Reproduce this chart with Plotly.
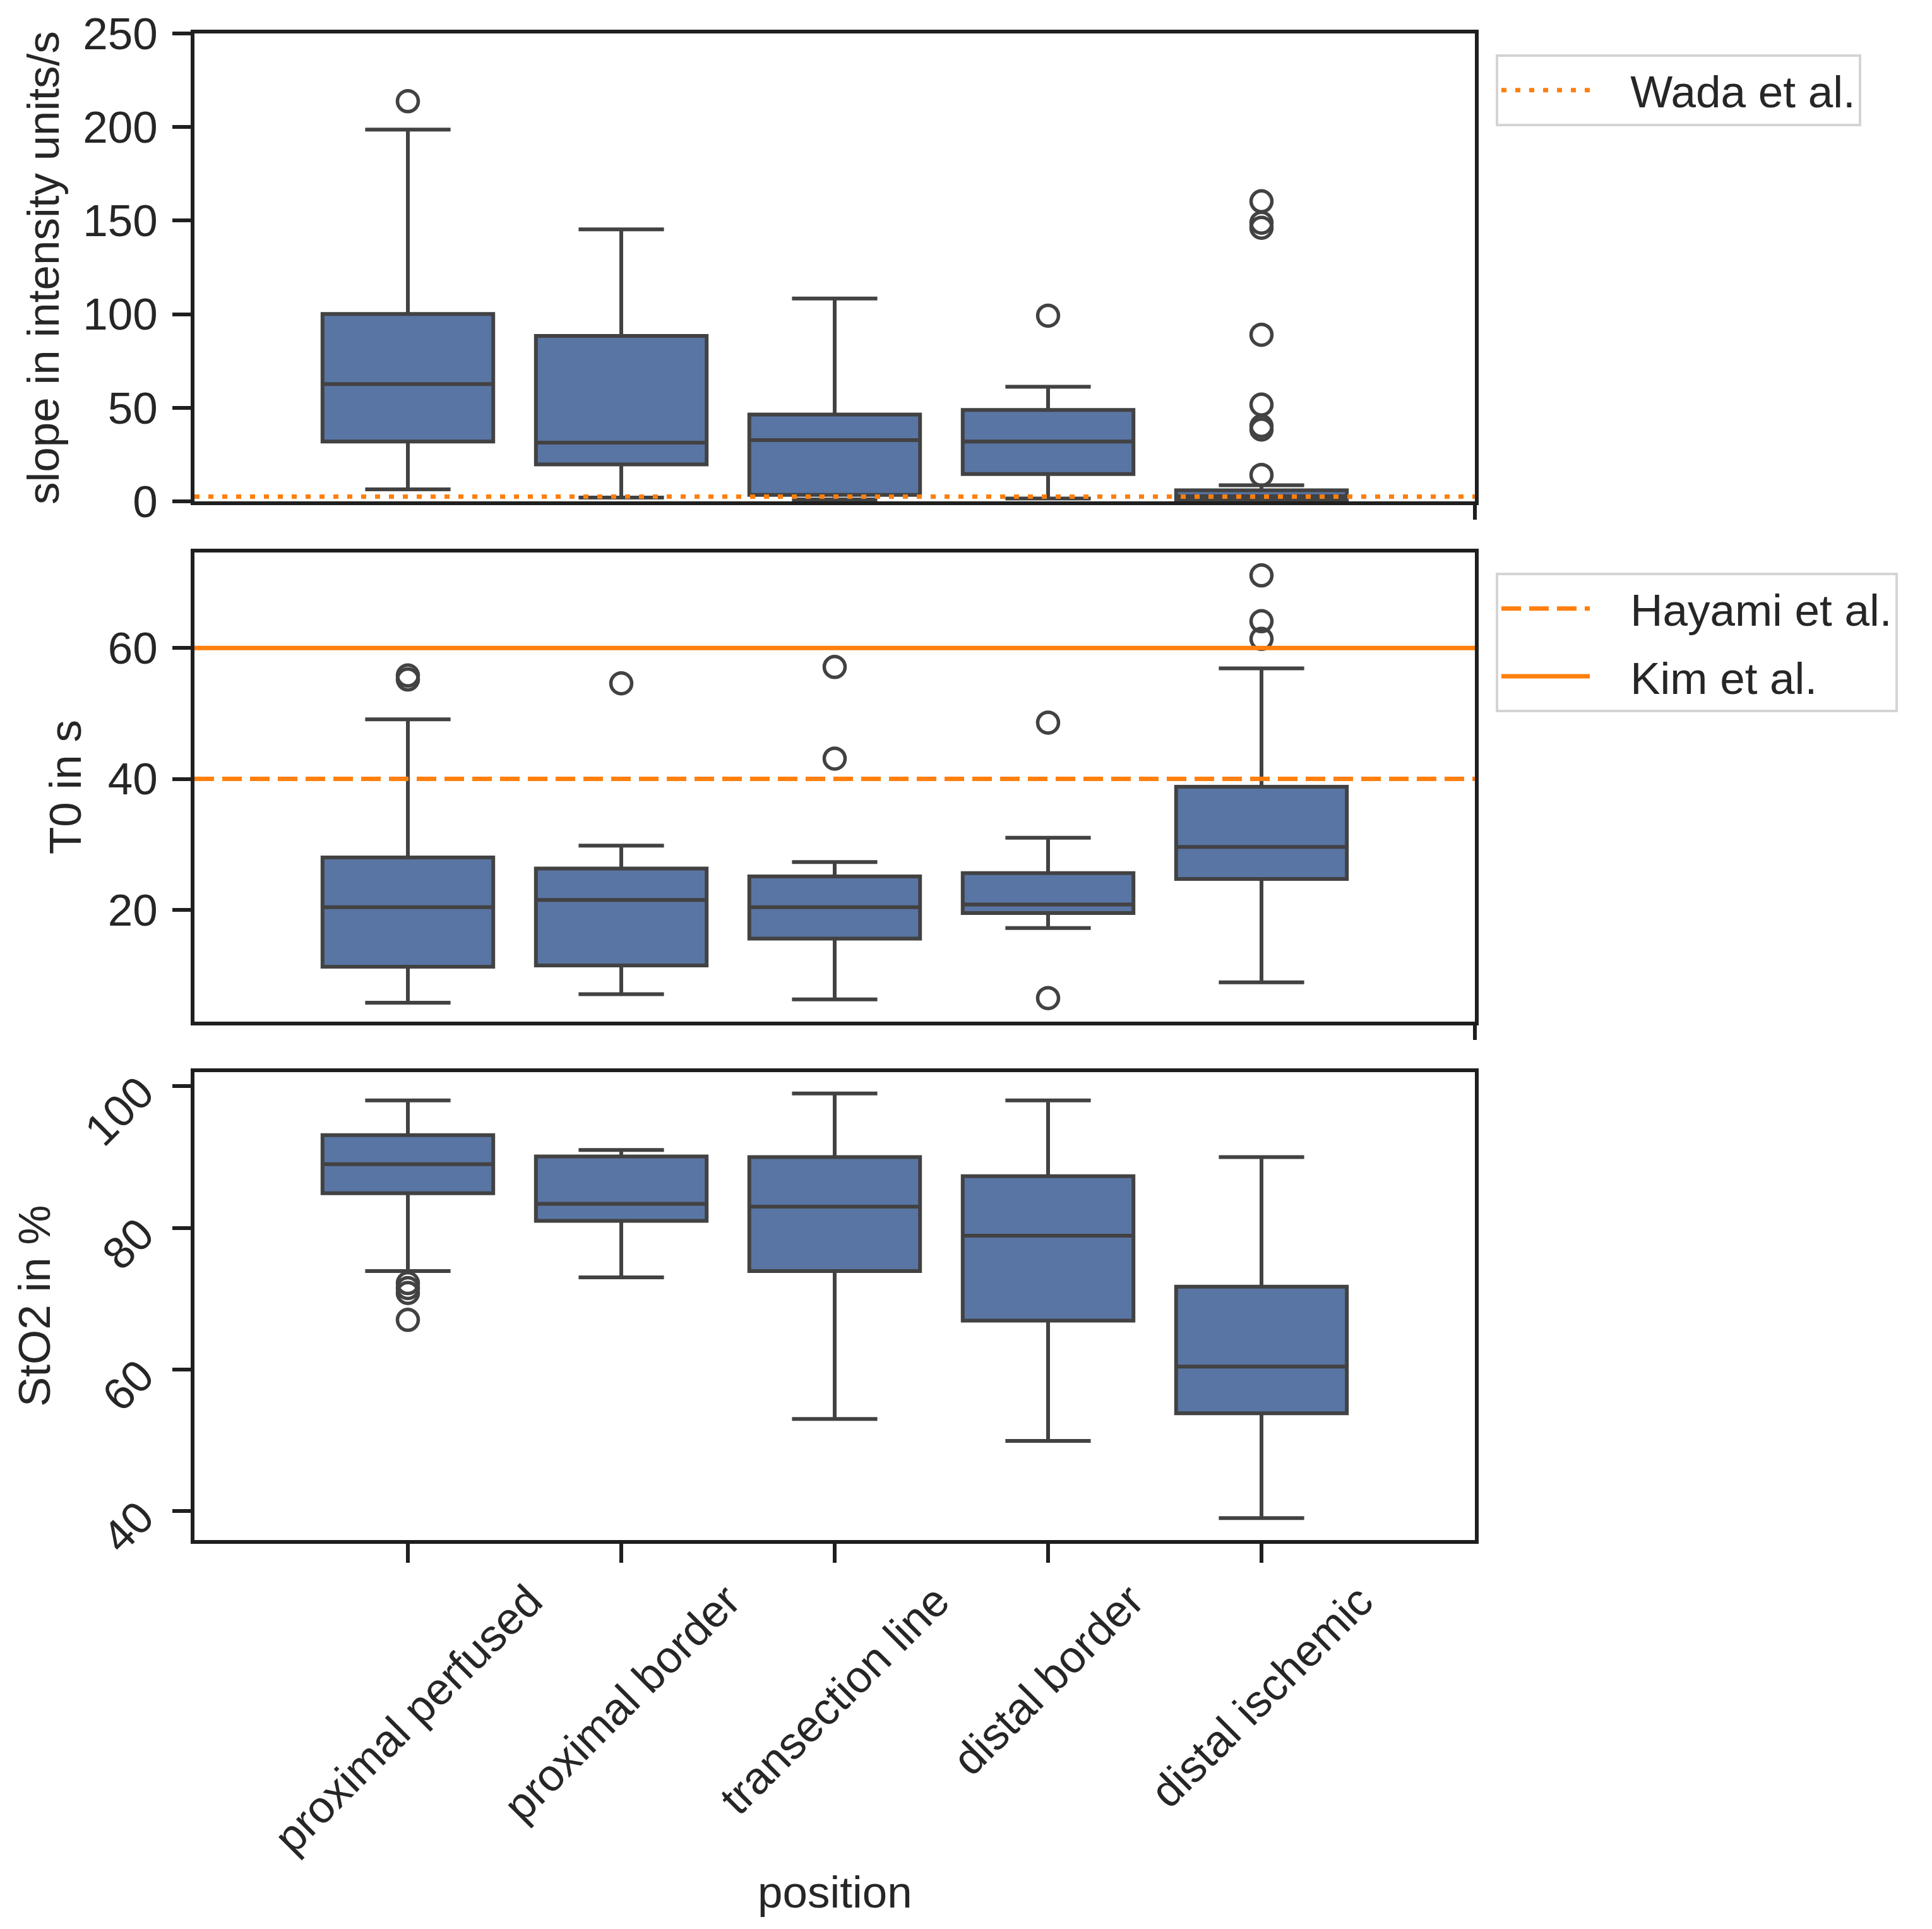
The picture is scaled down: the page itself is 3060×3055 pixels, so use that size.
import plotly.graph_objects as go

W, H = 3060, 3055

categories = ["proximal perfused", "proximal border", "transection line",
              "distal border", "distal ischemic"]

# ---- panel 1: slope in intensity units/s
slope_q1 = [32.0, 19.7, 3.5, 14.6, 0.8]
slope_median = [62.7, 31.4, 32.7, 32.0, 2.8]
slope_q3 = [100.1, 88.4, 46.4, 48.8, 5.9]
slope_low = [6.4, 2.0, 1.0, 1.5, 0.3]
slope_high = [198.6, 145.3, 108.4, 61.2, 8.6]
slope_out_cat = ["proximal perfused", "distal border",
                 "distal ischemic", "distal ischemic", "distal ischemic",
                 "distal ischemic", "distal ischemic", "distal ischemic",
                 "distal ischemic", "distal ischemic"]
slope_out_val = [213.8, 99.2, 160.3, 148.9, 146.2, 89.0, 51.7, 40.2, 38.4, 14.1]
slope_ticks = [0, 50, 100, 150, 200, 250]
wada_value = 2.5

# ---- panel 2: T0 in s
t0_q1 = [11.3, 11.5, 15.6, 19.5, 24.7]
t0_median = [20.4, 21.5, 20.4, 20.8, 29.6]
t0_q3 = [28.0, 26.3, 25.1, 25.6, 38.8]
t0_low = [5.8, 7.1, 6.3, 17.2, 8.9]
t0_high = [49.1, 29.8, 27.3, 31.0, 56.9]
t0_out_cat = ["proximal perfused", "proximal perfused", "proximal border",
              "transection line", "transection line", "distal border",
              "distal border", "distal ischemic", "distal ischemic",
              "distal ischemic"]
t0_out_val = [55.8, 55.2, 54.6, 57.1, 43.1, 48.6, 6.5, 71.1, 64.1, 61.4]
t0_ticks = [20, 40, 60]
hayami_value = 40
kim_value = 60

# ---- panel 3: StO2 in %
sto2_q1 = [84.9, 81.0, 73.9, 66.9, 53.8]
sto2_median = [89.0, 83.4, 83.0, 78.9, 60.4]
sto2_q3 = [93.1, 90.1, 90.0, 87.3, 71.7]
sto2_low = [73.9, 73.0, 53.0, 49.9, 39.0]
sto2_high = [98.0, 91.0, 99.0, 98.0, 90.0]
sto2_out_cat = ["proximal perfused"] * 4
sto2_out_val = [72.2, 71.5, 70.8, 67.0]
sto2_ticks = [40, 60, 80, 100]

FONT = "Liberation Sans, Arial, sans-serif"
TXT = "#262626"
SPINE = "#1f1f1f"
EDGE = "#424242"
FILL = "#5975a4"
ORANGE = "#ff7f0e"
FS = 71
NB = "\u00a0"

xpos = list(range(len(categories)))

def px_x(p):
    return p / W

def px_y(p):
    return 1 - p / H

fig = go.Figure()

panels = [
    ("x", "y", slope_q1, slope_median, slope_q3, slope_low, slope_high, slope_out_cat, slope_out_val),
    ("x2", "y2", t0_q1, t0_median, t0_q3, t0_low, t0_high, t0_out_cat, t0_out_val),
    ("x3", "y3", sto2_q1, sto2_median, sto2_q3, sto2_low, sto2_high, sto2_out_cat, sto2_out_val),
]

for xa, ya, q1, med, q3, lo, hi, ocat, oval in panels:
    fig.add_trace(go.Box(
        x=xpos, q1=q1, median=med, q3=q3, lowerfence=lo, upperfence=hi,
        boxpoints=False, width=0.8, whiskerwidth=0.5,
        fillcolor=FILL, line=dict(color=EDGE, width=6),
        showlegend=False, hoverinfo="skip", xaxis=xa, yaxis=ya))
    fig.add_trace(go.Scatter(
        x=[categories.index(c) for c in ocat], y=oval, mode="markers",
        marker=dict(symbol="circle-open", size=33, color=EDGE,
                    line=dict(width=5.5, color=EDGE)),
        showlegend=False, hoverinfo="skip", xaxis=xa, yaxis=ya))

# reference lines
fig.add_trace(go.Scatter(x=[-1, 5], y=[wada_value, wada_value], mode="lines",
                         line=dict(color=ORANGE, width=7, dash="8px,14px"),
                         name=NB * 3 + "Wada et al.", legend="legend",
                         xaxis="x", yaxis="y"))
fig.add_trace(go.Scatter(x=[-1, 5], y=[hayami_value, hayami_value], mode="lines",
                         line=dict(color=ORANGE, width=7, dash="31px,13px"),
                         name=NB * 3 + "Hayami et al.", legend="legend2", legendgroup="a",
                         xaxis="x2", yaxis="y2"))
fig.add_trace(go.Scatter(x=[-1, 5], y=[kim_value, kim_value], mode="lines",
                         line=dict(color=ORANGE, width=7),
                         name=NB * 3 + "Kim et al.", legend="legend2", legendgroup="b",
                         xaxis="x2", yaxis="y2"))

xdom = [px_x(308), px_x(2336)]
doms = [[px_y(794), px_y(53)], [px_y(1618), px_y(875)], [px_y(2439), px_y(1698)]]
yranges = [[0, 250], [2.9, 74.6], [35.9, 102.0]]
yticks = [slope_ticks, t0_ticks, sto2_ticks]

axis_common = dict(showline=True, mirror=True, linewidth=6, linecolor=SPINE,
                   showgrid=False, zeroline=False, automargin=False,
                   tickfont=dict(family=FONT, size=FS, color=TXT))

layout = dict(width=W, height=H, margin=dict(l=0, r=0, t=0, b=0, autoexpand=False),
              paper_bgcolor="white", plot_bgcolor="white",
              font=dict(family=FONT, size=FS, color=TXT))

for i in range(3):
    sfx = "" if i == 0 else str(i + 1)
    xa = dict(axis_common, domain=xdom, range=[-1, 5], anchor="y" + sfx,
              tickvals=xpos, showticklabels=False)
    if i < 2:
        xa.update(ticks="")
    else:
        xa.update(ticks="outside", ticklen=30, tickwidth=6, tickcolor=SPINE)
    ya = dict(axis_common, domain=doms[i], range=yranges[i], anchor="x" + sfx,
              tickvals=yticks[i], ticks="outside", ticklen=29, tickwidth=6,
              tickcolor=SPINE, ticklabelstandoff=9)
    if i == 2:
        ya.update(tickangle=-45, ticklabelstandoff=36)
    layout["xaxis" + sfx] = xa
    layout["yaxis" + sfx] = ya

legend_common = dict(bgcolor="white", bordercolor="#d4d4d4", borderwidth=4,
                     font=dict(family=FONT, size=FS, color=TXT),
                     itemwidth=140, xanchor="left", yanchor="top")
layout["legend"] = dict(legend_common, x=px_x(2369), y=px_y(86))
layout["legend2"] = dict(legend_common, x=px_x(2369), y=px_y(907),
                         traceorder="grouped", tracegroupgap=12)

annotations = []
# x tick labels, centred on ticks and rotated
for i, c in enumerate(categories):
    annotations.append(dict(text=c, x=i, xref="x3", y=px_y(2492), yref="paper",
                            xanchor="center", yanchor="top", textangle=-45,
                            showarrow=False, font=dict(family=FONT, size=FS, color=TXT)))
annotations.append(dict(text="position", x=px_x(1322), y=px_y(2996), xref="paper",
                        yref="paper", xanchor="center", yanchor="middle",
                        showarrow=False, font=dict(family=FONT, size=FS, color=TXT)))
for txt, xc, yc in [("slope in intensity units/s", 68, 424),
                    ("T0 in s", 103, 1247),
                    ("StO2 in %", 54, 2068)]:
    annotations.append(dict(text=txt, x=px_x(xc), y=px_y(yc), xref="paper", yref="paper",
                            xanchor="center", yanchor="middle", textangle=-90,
                            showarrow=False, font=dict(family=FONT, size=FS, color=TXT)))
layout["annotations"] = annotations

layout["shapes"] = [
    dict(type="line", xref="paper", yref="paper", x0=px_x(2336), x1=px_x(2336),
         y0=px_y(794), y1=px_y(823), line=dict(color=SPINE, width=6)),
    dict(type="line", xref="paper", yref="paper", x0=px_x(2336), x1=px_x(2336),
         y0=px_y(1618), y1=px_y(1647), line=dict(color=SPINE, width=6)),
]

fig.update_layout(layout)
fig.write_html("out.html")
